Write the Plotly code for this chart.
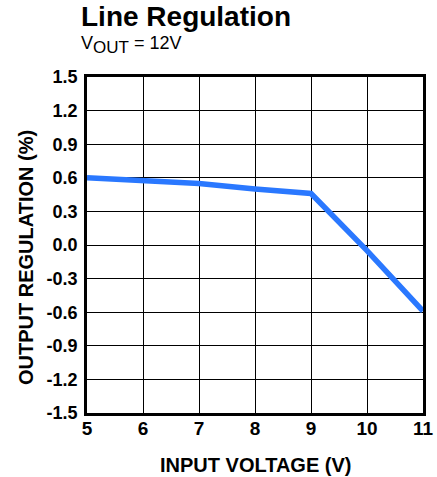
import plotly.graph_objects as go

vin = [5, 6, 7, 8, 9, 10, 11]
regulation = [0.60, 0.58, 0.55, 0.50, 0.46, -0.05, -0.59]
x_ticks = [5, 6, 7, 8, 9, 10, 11]
y_ticks = [1.5, 1.2, 0.9, 0.6, 0.3, 0.0, -0.3, -0.6, -0.9, -1.2, -1.5]
y_labels = ["1.5", "1.2", "0.9", "0.6", "0.3", "0.0", "-0.3", "-0.6", "-0.9", "-1.2", "-1.5"]

W, H = 437, 477
L, R, T, B = 87, 14, 77, 64
PW, PH = W - L - R, H - T - B

fig = go.Figure()
fig.add_trace(go.Scatter(x=vin, y=regulation, mode="lines",
                         line=dict(color="#2a78ff", width=5.5), showlegend=False))

font_family = "Liberation Sans, Arial, sans-serif"
fig.update_layout(
    width=W, height=H,
    margin=dict(l=L, r=R, t=T, b=B, autoexpand=False),
    paper_bgcolor="white", plot_bgcolor="white",
    font=dict(family=font_family, color="black"),
    xaxis=dict(range=[5, 11], tickvals=x_ticks, ticktext=[str(v) for v in x_ticks],
               showgrid=True, gridcolor="black", gridwidth=1.3,
               showline=True, linecolor="black", linewidth=2.5, mirror=True,
               ticks="", zeroline=False, automargin=False, ticklabelstandoff=-4,
               tickfont=dict(family=font_family, size=19, color="black", weight="bold")),
    yaxis=dict(range=[-1.5, 1.5], tickvals=y_ticks, ticktext=y_labels,
               showgrid=True, gridcolor="black", gridwidth=1.3,
               showline=True, linecolor="black", linewidth=2.5, mirror=True,
               ticks="", zeroline=False, ticklabelstandoff=3, automargin=False,
               tickfont=dict(family=font_family, size=18, color="black", weight="bold")),
    annotations=[
        dict(text="<b>Line Regulation</b>", xref="paper", yref="paper",
             x=-8 / PW, y=1 + 60 / PH, xanchor="left", yanchor="middle",
             showarrow=False, font=dict(family=font_family, size=28, color="black")),
        dict(text="V<sub><span style='font-size:17px'>OUT</span></sub> = 12V", xref="paper", yref="paper",
             x=-8 / PW, y=1 + 32 / PH, xanchor="left", yanchor="middle",
             showarrow=False, font=dict(family=font_family, size=18, color="black")),
        dict(text="<b>INPUT VOLTAGE (V)</b>", xref="paper", yref="paper",
             x=0.5, y=-52 / PH, xanchor="center", yanchor="middle",
             showarrow=False, font=dict(family=font_family, size=20, color="black")),
        dict(text="<b>OUTPUT REGULATION (%)</b>", xref="paper", yref="paper",
             x=-61 / PW, y=(412 - 257) / PH, xanchor="center", yanchor="middle", textangle=-90,
             showarrow=False, font=dict(family=font_family, size=20, color="black")),
    ],
)

fig.write_html("out.html", config={"displayModeBar": False},
               post_script="document.body.style.margin='0';document.body.style.overflow='hidden';")
